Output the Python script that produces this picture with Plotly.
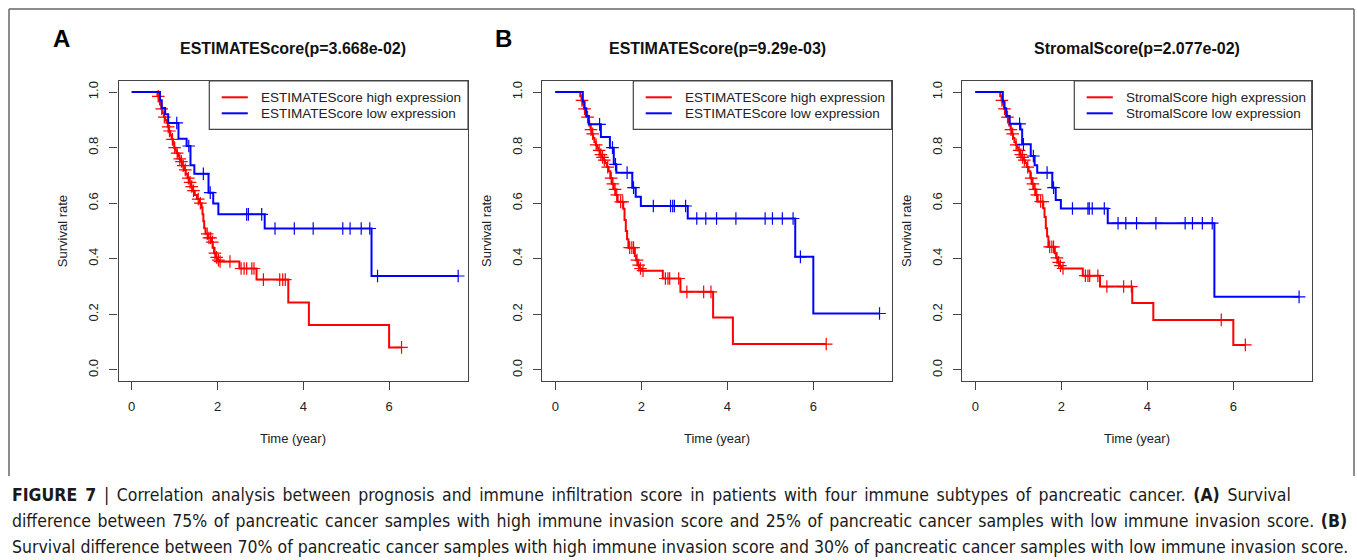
import plotly.graph_objects as go

W, H = 1357, 560
FONT = "Liberation Sans, Arial, Helvetica, sans-serif"
RED = "#ff0000"
BLUE = "#0000ff"
AX = "#444444"

# ---------------- data ----------------
# Panel A : ESTIMATEScore (75% / 25%)
a_high_t = [0.60,0.63,0.66,0.69,0.72,0.75,0.78,0.81,0.84,0.87,0.90,0.93,0.96,0.99,1.02,1.05,1.08,1.11,1.14,1.18,
            1.22,1.26,1.30,1.34,1.38,1.42,1.47,1.52,1.58,1.63,1.65,1.67,1.69,1.72,1.78,1.86,1.89,1.92,1.96,2.00,
            2.04,2.51,2.91,3.65,4.13,6.00]
a_high_s = [0.985,0.97,0.955,0.94,0.925,0.91,0.90,0.89,0.875,0.86,0.845,0.83,0.815,0.80,0.79,0.78,0.77,0.76,0.75,0.735,
            0.72,0.705,0.69,0.675,0.66,0.645,0.63,0.615,0.60,0.585,0.56,0.535,0.51,0.49,0.475,0.46,0.44,0.42,0.405,0.395,
            0.39,0.365,0.325,0.243,0.162,0.081]
a_high_end = 6.29
a_high_ct = [0.62,0.70,0.76,0.85,0.88,0.95,1.00,1.06,1.12,1.16,1.20,1.25,1.32,1.36,1.40,1.44,1.55,1.60,1.76,1.80,
             1.84,1.88,1.94,1.98,2.02,2.06,2.29,2.55,2.62,2.68,2.80,2.85,3.07,3.45,3.52,3.58,6.29]
a_high_cs = [0.985,0.94,0.91,0.875,0.86,0.83,0.80,0.78,0.76,0.75,0.735,0.72,0.69,0.675,0.66,0.645,0.615,0.60,0.49,0.475,
             0.475,0.46,0.42,0.405,0.395,0.39,0.39,0.365,0.365,0.365,0.365,0.365,0.325,0.325,0.325,0.325,0.081]

a_low_t = [0.66,0.70,0.78,0.85,1.09,1.28,1.37,1.46,1.79,1.90,2.02,3.10,5.59]
a_low_s = [0.971,0.943,0.92,0.889,0.832,0.806,0.737,0.706,0.638,0.599,0.56,0.509,0.338]
a_low_end = 7.61
a_low_ct = [1.05,1.33,1.67,1.83,2.68,2.72,3.03,3.34,3.79,4.23,4.92,5.09,5.35,5.55,5.73,7.61]
a_low_cs = [0.889,0.806,0.706,0.638,0.56,0.56,0.56,0.509,0.509,0.509,0.509,0.509,0.509,0.509,0.338,0.338]

# Panel B : ESTIMATEScore (70% / 30%)
b_high_t = [0.58,0.61,0.64,0.67,0.70,0.73,0.76,0.79,0.82,0.85,0.88,0.91,0.94,0.97,1.00,1.04,1.08,1.12,1.16,1.20,
            1.24,1.28,1.32,1.36,1.40,1.45,1.58,1.61,1.64,1.67,1.70,1.85,1.88,1.92,1.96,2.01,2.50,2.91,3.67,4.13]
b_high_s = [0.985,0.97,0.955,0.94,0.925,0.91,0.895,0.88,0.865,0.85,0.835,0.82,0.81,0.80,0.79,0.775,0.765,0.755,0.745,0.73,
            0.715,0.69,0.67,0.65,0.63,0.605,0.58,0.54,0.50,0.47,0.44,0.41,0.395,0.377,0.365,0.357,0.329,0.281,0.189,0.093]
b_high_end = 6.30
b_high_ct = [0.62,0.68,0.75,0.83,0.87,0.95,1.02,1.06,1.10,1.14,1.22,1.30,1.34,1.39,1.43,1.52,1.57,1.73,1.78,1.82,
             1.90,1.94,1.98,2.04,2.56,2.62,2.66,2.87,3.06,3.45,3.62,6.30]
b_high_cs = [0.97,0.94,0.91,0.865,0.85,0.81,0.79,0.775,0.765,0.755,0.73,0.69,0.67,0.65,0.63,0.605,0.605,0.44,0.44,0.44,
             0.395,0.377,0.365,0.357,0.329,0.329,0.329,0.329,0.281,0.281,0.281,0.093]

b_low_t = [0.64,0.68,0.72,0.78,1.06,1.27,1.36,1.42,1.79,1.87,1.99,3.08,5.58,6.00]
b_low_s = [0.965,0.942,0.914,0.884,0.838,0.80,0.74,0.71,0.656,0.623,0.59,0.545,0.407,0.203]
b_low_end = 7.54
b_low_ct = [1.03,1.33,1.40,1.67,1.82,2.28,2.68,2.73,2.77,3.03,3.29,3.50,3.75,4.20,4.88,5.05,5.28,5.53,5.70,7.54]
b_low_cs = [0.884,0.80,0.74,0.71,0.656,0.59,0.59,0.59,0.59,0.59,0.545,0.545,0.545,0.545,0.545,0.545,0.545,0.545,0.407,0.203]

# Panel C : StromalScore
c_high_t = [0.58,0.61,0.64,0.67,0.70,0.73,0.76,0.79,0.82,0.85,0.88,0.91,0.94,0.97,1.00,1.04,1.08,1.12,1.16,1.20,
            1.24,1.28,1.32,1.36,1.40,1.45,1.58,1.61,1.64,1.67,1.70,1.85,1.88,1.92,1.96,2.01,2.50,2.90,3.65,4.14,6.00]
c_high_s = [0.985,0.97,0.955,0.94,0.925,0.91,0.895,0.88,0.865,0.85,0.835,0.82,0.81,0.80,0.79,0.775,0.765,0.755,0.745,0.73,
            0.715,0.69,0.67,0.65,0.63,0.606,0.582,0.55,0.51,0.48,0.443,0.42,0.403,0.387,0.375,0.365,0.339,0.30,0.241,0.18,0.09]
c_high_end = 6.28
c_high_ct = [0.62,0.68,0.75,0.83,0.87,0.95,1.02,1.06,1.10,1.14,1.22,1.30,1.34,1.39,1.43,1.52,1.57,1.73,1.78,1.82,
             1.90,1.94,1.98,2.04,2.56,2.62,2.66,2.85,3.06,3.45,3.63,5.72,6.28]
c_high_cs = [0.97,0.94,0.91,0.865,0.85,0.81,0.79,0.775,0.765,0.755,0.73,0.69,0.67,0.65,0.63,0.606,0.606,0.443,0.443,0.443,
             0.403,0.387,0.375,0.365,0.339,0.339,0.339,0.339,0.30,0.30,0.30,0.18,0.09]

c_low_t = [0.64,0.68,0.72,0.80,1.05,1.09,1.29,1.38,1.44,1.79,1.87,1.99,3.08,5.56]
c_low_s = [0.965,0.942,0.914,0.886,0.865,0.812,0.77,0.737,0.71,0.656,0.612,0.581,0.528,0.263]
c_low_end = 7.53
c_low_ct = [1.03,1.12,1.35,1.67,1.82,2.26,2.62,2.65,2.72,3.00,3.32,3.50,3.75,4.20,4.88,5.05,5.28,5.51,7.53]
c_low_cs = [0.886,0.812,0.77,0.71,0.656,0.581,0.581,0.581,0.581,0.581,0.528,0.528,0.528,0.528,0.528,0.528,0.528,0.528,0.263]

titles = ["ESTIMATEScore(p=3.668e-02)", "ESTIMATEScore(p=9.29e-03)", "StromalScore(p=2.077e-02)"]
legend_high = ["ESTIMATEScore high expression", "ESTIMATEScore high expression", "StromalScore high expression"]
legend_low = ["ESTIMATEScore low expression", "ESTIMATEScore low expression", "StromalScore low expression"]
panel_letters = ["A", "B", ""]
x_ticks = [0, 2, 4, 6]
y_ticks = [0.0, 0.2, 0.4, 0.6, 0.8, 1.0]
x_title = "Time (year)"
y_title = "Survival rate"

caption_lines = [
    "<b>FIGURE 7</b> | Correlation analysis between prognosis and immune infiltration score in patients with four immune subtypes of pancreatic cancer. <b>(A)</b> Survival",
    "difference between 75% of pancreatic cancer samples with high immune invasion score and 25% of pancreatic cancer samples with low immune invasion score. <b>(B)</b>",
    "Survival difference between 70% of pancreatic cancer samples with high immune invasion score and 30% of pancreatic cancer samples with low immune invasion score.",
]
# extra inter-word spacing to imitate the justified caption lines
caption_pads = ["\u2006", "\u200a", ""]

# ---------------- layout geometry (pixels) ----------------
def fx(x):
    return x / W

def fy(y):
    return 1 - y / H

boxes = [(118.5, 468.0), (542.3, 891.7), (962.3, 1311.7)]
box_top, box_bot = 81.0, 381.0
x_ranges = [[-0.308, 7.839], [-0.302, 7.823], [-0.302, 7.823]]
y_range = [-0.04, 1.04]
legend_widths = [258.7, 258.4, 237.4]

data = [
    (a_high_t, a_high_s, a_high_end, a_high_ct, a_high_cs, a_low_t, a_low_s, a_low_end, a_low_ct, a_low_cs),
    (b_high_t, b_high_s, b_high_end, b_high_ct, b_high_cs, b_low_t, b_low_s, b_low_end, b_low_ct, b_low_cs),
    (c_high_t, c_high_s, c_high_end, c_high_ct, c_high_cs, c_low_t, c_low_s, c_low_end, c_low_ct, c_low_cs),
]

fig = go.Figure()
shapes = []
annotations = []

for i, (d, box) in enumerate(zip(data, boxes)):
    xa = "x" if i == 0 else f"x{i+1}"
    ya = "y" if i == 0 else f"y{i+1}"
    ht, hs, hend, hct, hcs, lt, ls, lend, lct, lcs = d
    for t, s, end, ct, cs, col, name in [(ht, hs, hend, hct, hcs, RED, legend_high[i]),
                                          (lt, ls, lend, lct, lcs, BLUE, legend_low[i])]:
        fig.add_trace(go.Scatter(
            x=[0] + list(t) + [end], y=[1.0] + list(s) + [s[-1]],
            mode="lines", line=dict(color=col, width=2, shape="hv"),
            name=name, showlegend=False, xaxis=xa, yaxis=ya, hoverinfo="skip"))
        fig.add_trace(go.Scatter(
            x=ct, y=cs, mode="markers",
            marker=dict(symbol="cross-thin", size=9, color=col, line=dict(color=col, width=1.2)),
            showlegend=False, xaxis=xa, yaxis=ya, hoverinfo="skip"))

    axis_common = dict(showline=True, mirror=True, linecolor=AX, linewidth=1.3,
                       ticks="outside", ticklen=8, tickwidth=1.2, tickcolor=AX,
                       showgrid=False, zeroline=False,
                       tickfont=dict(family=FONT, size=13, color="#222"))
    fig.update_layout(**{
        ("xaxis" if i == 0 else f"xaxis{i+1}"): dict(
            domain=[fx(box[0]), fx(box[1])], range=x_ranges[i], anchor=ya,
            tickvals=x_ticks, ticktext=[str(v) for v in x_ticks], ticklabelstandoff=5,
            **axis_common),
        ("yaxis" if i == 0 else f"yaxis{i+1}"): dict(
            domain=[fy(box_bot), fy(box_top)], range=y_range, anchor=xa,
            tickvals=y_ticks, ticktext=[f"{v:.1f}" for v in y_ticks], tickangle=-90,
            ticklabelstandoff=6, **axis_common),
    })

    cx = (box[0] + box[1]) / 2
    annotations.append(dict(x=fx(cx), y=fy(48.5), xref="paper", yref="paper", text=f"<b>{titles[i]}</b>",
                            showarrow=False, xanchor="center", yanchor="middle",
                            font=dict(family=FONT, size=16, color="#111")))
    annotations.append(dict(x=fx(cx), y=fy(438), xref="paper", yref="paper", text=x_title,
                            showarrow=False, xanchor="center", yanchor="middle",
                            font=dict(family=FONT, size=13, color="#222")))
    annotations.append(dict(x=fx(box[0] - 56.3), y=fy((box_top + box_bot) / 2), xref="paper", yref="paper",
                            text=y_title, textangle=-90, showarrow=False, xanchor="center", yanchor="middle",
                            font=dict(family=FONT, size=13, color="#222")))
    if panel_letters[i]:
        annotations.append(dict(x=fx(box[0] - 57 if i == 0 else box[0] - 38.5), y=fy(38.5), xref="paper", yref="paper",
                                text=f"<b>{panel_letters[i]}</b>", showarrow=False,
                                xanchor="center", yanchor="middle",
                                font=dict(family=FONT, size=24, color="#000")))

    # legend box
    lx0 = box[1] - legend_widths[i]
    shapes.append(dict(type="rect", xref="paper", yref="paper", x0=fx(lx0), x1=fx(box[1]),
                       y0=fy(129.3), y1=fy(box_top), line=dict(color=AX, width=1.2), fillcolor="white"))
    for yy, col, txt in [(97.3, RED, legend_high[i]), (113.3, BLUE, legend_low[i])]:
        shapes.append(dict(type="line", xref="paper", yref="paper", x0=fx(lx0 + 12.4), x1=fx(lx0 + 38.5),
                           y0=fy(yy), y1=fy(yy), line=dict(color=col, width=2)))
        annotations.append(dict(x=fx(lx0 + 49.5), y=fy(yy), xref="paper", yref="paper", text=txt,
                                showarrow=False, xanchor="left", yanchor="middle",
                                font=dict(family=FONT, size=13.5, color="#222")))

# outer frame (top, left, right)
for (x0, y0, x1, y1) in [(9, 9, 1354, 9), (9, 9, 9, 476), (1354, 9, 1354, 476)]:
    shapes.append(dict(type="line", xref="paper", yref="paper", x0=fx(x0), x1=fx(x1), y0=fy(y0), y1=fy(y1),
                       line=dict(color="#666", width=1.5)))

# caption
CAP_FONT = "DejaVu Sans Condensed, Liberation Sans Narrow, Arial Narrow, sans-serif"
for line, pad, yy in zip(caption_lines, caption_pads, [495, 521, 547]):
    txt = line.replace(" ", " " + pad) if pad else line
    annotations.append(dict(x=fx(10), y=fy(yy), xref="paper", yref="paper", text=txt,
                            showarrow=False, xanchor="left", yanchor="middle",
                            font=dict(family=CAP_FONT, size=17.5, color="#1a1a1a")))

fig.update_layout(width=W, height=H, margin=dict(l=0, r=0, t=0, b=0),
                  paper_bgcolor="white", plot_bgcolor="white",
                  shapes=shapes, annotations=annotations, showlegend=False)

fig.write_html("out.html")
